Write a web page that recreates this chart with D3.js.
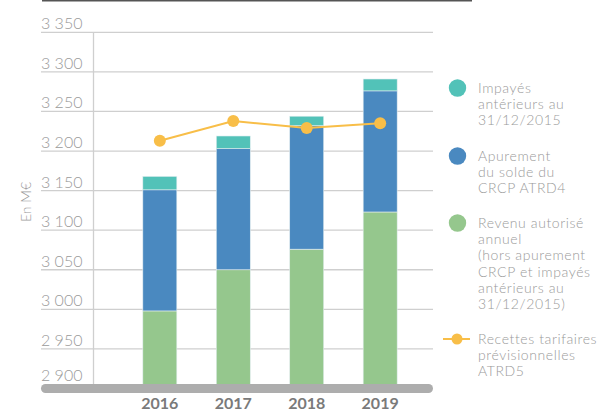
<!DOCTYPE html>
<html><head><meta charset="utf-8">
<script src="https://cdn.jsdelivr.net/npm/d3@7"></script>
<style>
html,body{margin:0;padding:0;background:#fff;}
svg{display:block;font-family:Lato,"Open Sans",sans-serif;}
</style></head>
<body><svg id="c" width="611" height="411"></svg>
<script>
const years = ["2016","2017","2018","2019"];
const revenu = [2998, 3050, 3076, 3123];
const apurement = [153, 153, 156, 153];
const impayes = [17, 16, 12, 15];
const recettes = [3213, 3238, 3229, 3235];
const yTicks = [2900, 2950, 3000, 3050, 3100, 3150, 3200, 3250, 3300, 3350];
const yTickLabels = ["2 900","2 950","3 000","3 050","3 100","3 150","3 200","3 250","3 300","3 350"];
const seriesNames = ["Revenu autorisé annuel", "Apurement du solde du CRCP ATRD4", "Impayés antérieurs au 31/12/2015"];
const colors = ["#95c78d", "#4a89c0", "#52c2b8"];
const lineColor = "#f8be48";
const legendItems = [
  {type:"dot", color:"#52c2b8", lines:["Impayés","antérieurs au","31/12/2015"]},
  {type:"dot", color:"#4a89c0", lines:["Apurement","du solde du","CRCP ATRD4"]},
  {type:"dot", color:"#95c78d", lines:["Revenu autorisé","annuel","(hors apurement","CRCP et impayés","antérieurs au","31/12/2015)"]},
  {type:"line", color:"#f8be48", lines:["Recettes tarifaires","prévisionnelles","ATRD5"]}
];
const legendY = [88, 156, 223, 339];

const svg = d3.select("#c");
const left = 41, right = 433, axisX = 93.5;
const y = d3.scaleLinear().domain([2900, 3350]).range([388.5, 32.3]);
const x = d3.scaleBand().domain(years).range([123, 417]).paddingInner(0.537).paddingOuter(0.27);

// top rule
svg.append("line").attr("x1",42).attr("x2",472).attr("y1",0.75).attr("y2",0.75)
  .attr("stroke","#555").attr("stroke-width",1.5);

// gridlines & labels
const g = svg.append("g");
yTicks.forEach((t,i)=>{
  if (t !== 2900) {
    g.append("line").attr("x1",left).attr("x2",right).attr("y1",y(t)).attr("y2",y(t))
      .attr("stroke","#cfcfcf").attr("stroke-width",1.3);
  }
  g.append("text").attr("x",left).attr("y",y(t)-(t===2900?8:3)).text(yTickLabels[i])
    .attr("fill","#9a9a9a").attr("font-size",16).attr("font-weight",300);
});
svg.append("line").attr("x1",axisX).attr("x2",axisX).attr("y1",y(3350)).attr("y2",y(2900))
  .attr("stroke","#cfcfcf").attr("stroke-width",1.3);

// y title
svg.append("text").attr("transform","translate(31,202) rotate(-90)").attr("text-anchor","middle")
  .attr("fill","#9a9a9a").attr("font-size",14).attr("font-weight",300).text("En M€");

// stacked bars
const rows = years.map((yr,i)=>({year:yr, r:revenu[i], a:apurement[i], p:impayes[i]}));
const stack = d3.stack().keys(["r","a","p"]);
const stacked = stack(rows);
stacked.forEach((layer,li)=>{
  svg.append("g").selectAll("rect").data(layer).join("rect")
    .attr("x", d=>x(d.data.year))
    .attr("width", x.bandwidth())
    .attr("y", d=>y(d[1]))
    .attr("height", d=>y(Math.max(d[0],2900))-y(d[1]))
    .attr("fill", colors[li])
    .attr("stroke", "#e4eef0").attr("stroke-width", 0.6);
});

// bottom axis bar
svg.append("line").attr("x1",left+4.5).attr("x2",right-4.5).attr("y1",388.5).attr("y2",388.5)
  .attr("stroke","#adadad").attr("stroke-width",9).attr("stroke-linecap","round");

// x labels
years.forEach(yr=>{
  svg.append("text").attr("x",x(yr)+x.bandwidth()/2).attr("y",409).attr("text-anchor","middle")
    .attr("fill","#7a7a7a").attr("font-size",16).attr("font-weight",700).text(yr);
});

// line
const line = d3.line().x((d,i)=>x(years[i])+x.bandwidth()/2).y(d=>y(d));
svg.append("path").datum(recettes).attr("d",line).attr("fill","none")
  .attr("stroke",lineColor).attr("stroke-width",2);
svg.append("g").selectAll("circle").data(recettes).join("circle")
  .attr("cx",(d,i)=>x(years[i])+x.bandwidth()/2).attr("cy",d=>y(d)).attr("r",6)
  .attr("fill",lineColor);

// legend
const lg = svg.append("g");
legendItems.forEach((it,i)=>{
  const cy = legendY[i];
  if (it.type==="dot") {
    lg.append("circle").attr("cx",457.5).attr("cy",cy).attr("r",8.7).attr("fill",it.color);
  } else {
    lg.append("line").attr("x1",443).attr("x2",470).attr("y1",cy).attr("y2",cy)
      .attr("stroke",it.color).attr("stroke-width",2);
    lg.append("circle").attr("cx",457).attr("cy",cy).attr("r",5.5).attr("fill",it.color);
  }
  it.lines.forEach((ln,j)=>{
    lg.append("text").attr("x",478).attr("y",cy+5+j*16.2).text(ln)
      .attr("fill","#9a9a9a").attr("font-size",14).attr("letter-spacing",0.6).attr("font-weight",300);
  });
});
</script></body></html>
